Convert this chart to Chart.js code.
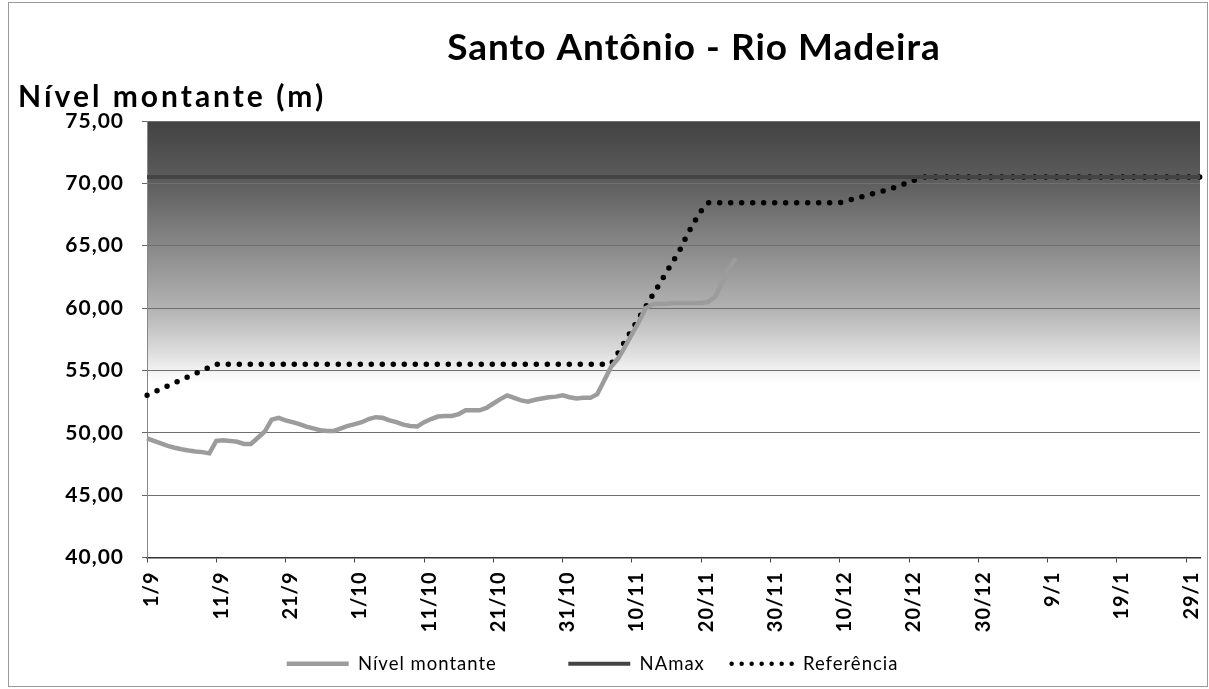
<!DOCTYPE html>
<html>
<head>
<meta charset="utf-8">
<script src="https://cdn.jsdelivr.net/npm/chart.js@4"></script>
<style>
  html, body { margin: 0; padding: 0; background: #fff; }
  canvas { display: block; }
</style>
</head>
<body>
<canvas id="chart" width="1209" height="689"></canvas>
<script>
// daily categories, 1/9 .. 31/1
const days = [];
for (let d = new Date(2011, 8, 1); d <= new Date(2012, 0, 31); d.setDate(d.getDate() + 1)) {
  days.push(d.getDate() + "/" + (d.getMonth() + 1));
}

const yTicks = [40, 45, 50, 55, 60, 65, 70, 75];

const nivelMontante = [
  49.55, 49.35, 49.15, 48.95, 48.8, 48.68, 48.58, 48.5, 48.45, 48.35,
  49.35, 49.4, 49.35, 49.28, 49.1, 49.1, 49.6, 50.1, 51.05, 51.2,
  51.0, 50.85, 50.7, 50.5, 50.35, 50.2, 50.15, 50.15, 50.35, 50.55,
  50.7, 50.85, 51.1, 51.25, 51.2, 51.0, 50.85, 50.65, 50.55, 50.5,
  50.85, 51.1, 51.3, 51.35, 51.35, 51.5, 51.8, 51.8, 51.8, 52.0,
  52.35, 52.7, 53.0, 52.8, 52.6, 52.5, 52.65, 52.75, 52.85, 52.9,
  53.0, 52.85, 52.75, 52.8, 52.8, 53.1, 54.2, 55.3, 55.95, 56.9,
  57.9, 58.9, 60.0, 60.3, 60.35, 60.35, 60.4, 60.4, 60.4, 60.4,
  60.4, 60.5, 60.9, 62.0, 63.2, 64.0
];

const naMax = [
  70.5, 70.5, 70.5, 70.5, 70.5, 70.5, 70.5, 70.5, 70.5, 70.5, 70.5, 70.5, 70.5, 70.5, 70.5, 70.5, 70.5,
  70.5, 70.5, 70.5, 70.5, 70.5, 70.5, 70.5, 70.5, 70.5, 70.5, 70.5, 70.5, 70.5, 70.5, 70.5, 70.5, 70.5,
  70.5, 70.5, 70.5, 70.5, 70.5, 70.5, 70.5, 70.5, 70.5, 70.5, 70.5, 70.5, 70.5, 70.5, 70.5, 70.5, 70.5,
  70.5, 70.5, 70.5, 70.5, 70.5, 70.5, 70.5, 70.5, 70.5, 70.5, 70.5, 70.5, 70.5, 70.5, 70.5, 70.5, 70.5,
  70.5, 70.5, 70.5, 70.5, 70.5, 70.5, 70.5, 70.5, 70.5, 70.5, 70.5, 70.5, 70.5, 70.5, 70.5, 70.5, 70.5,
  70.5, 70.5, 70.5, 70.5, 70.5, 70.5, 70.5, 70.5, 70.5, 70.5, 70.5, 70.5, 70.5, 70.5, 70.5, 70.5, 70.5,
  70.5, 70.5, 70.5, 70.5, 70.5, 70.5, 70.5, 70.5, 70.5, 70.5, 70.5, 70.5, 70.5, 70.5, 70.5, 70.5, 70.5,
  70.5, 70.5, 70.5, 70.5, 70.5, 70.5, 70.5, 70.5, 70.5, 70.5, 70.5, 70.5, 70.5, 70.5, 70.5, 70.5, 70.5,
  70.5, 70.5, 70.5, 70.5, 70.5, 70.5, 70.5, 70.5, 70.5, 70.5, 70.5, 70.5, 70.5, 70.5, 70.5, 70.5, 70.5
];

const referencia = [
  53.0, 53.25, 53.5, 53.75, 54.0, 54.25, 54.5, 54.75, 55.0, 55.25, 55.5,
  55.5, 55.5, 55.5, 55.5, 55.5, 55.5, 55.5, 55.5, 55.5, 55.5,
  55.5, 55.5, 55.5, 55.5, 55.5, 55.5, 55.5, 55.5, 55.5, 55.5,
  55.5, 55.5, 55.5, 55.5, 55.5, 55.5, 55.5, 55.5, 55.5, 55.5,
  55.5, 55.5, 55.5, 55.5, 55.5, 55.5, 55.5, 55.5, 55.5, 55.5,
  55.5, 55.5, 55.5, 55.5, 55.5, 55.5, 55.5, 55.5, 55.5, 55.5,
  55.5, 55.5, 55.5, 55.5, 55.5, 55.5, 55.5,
  56.4, 57.35, 58.25, 59.2, 60.1, 61.05, 61.95, 62.9, 63.8, 64.75, 65.9, 66.9, 67.8, 68.45,
  68.45, 68.45, 68.45, 68.45, 68.45, 68.45, 68.45, 68.45, 68.45, 68.45,
  68.45, 68.45, 68.45, 68.45, 68.45, 68.45, 68.45, 68.45, 68.45,
  68.6, 68.75, 68.9, 69.05, 69.2, 69.35, 69.5, 69.7, 69.9, 70.1, 70.3, 70.5,
  70.5, 70.5, 70.5, 70.5, 70.5, 70.5, 70.5, 70.5, 70.5, 70.5,
  70.5, 70.5, 70.5, 70.5, 70.5, 70.5, 70.5, 70.5, 70.5, 70.5,
  70.5, 70.5, 70.5, 70.5, 70.5, 70.5, 70.5, 70.5, 70.5, 70.5,
  70.5, 70.5, 70.5, 70.5, 70.5, 70.5, 70.5, 70.5, 70.5, 70.5
];

const FONT = "Lato, 'Open Sans', sans-serif";

// grey gradient behind the plot, titles and outer frame
const decor = {
  id: "decor",
  beforeUpdate(chart) {
    chart.ctx.letterSpacing = "1px";
  },
  beforeDraw(chart) {
    const { ctx, chartArea: a, scales: { y } } = chart;
    ctx.letterSpacing = "1px";
    const g = ctx.createLinearGradient(0, a.top, 0, a.bottom);
    const stop = (v, c) => g.addColorStop((y.getPixelForValue(v) - a.top) / (a.bottom - a.top), c);
    stop(75, "#424242");
    stop(70, "#5e5e5e");
    stop(65, "#888888");
    stop(60, "#b2b2b2");
    stop(57, "#d6d6d6");
    stop(55, "#f2f2f2");
    stop(54, "#ffffff");
    stop(40, "#ffffff");
    ctx.save();
    ctx.fillStyle = g;
    ctx.fillRect(a.left, a.top, a.right - a.left, a.bottom - a.top);
    ctx.restore();
  },
  afterDraw(chart) {
    const { ctx } = chart;
    ctx.save();
    ctx.strokeStyle = "#9a9a9a";
    ctx.lineWidth = 1;
    ctx.strokeRect(8.5, 2.5, 1199, 684);
    ctx.fillStyle = "#000";
    ctx.textBaseline = "alphabetic";
    ctx.textAlign = "center";
    ctx.letterSpacing = "1px";
    ctx.font = "bold 37px " + FONT;
    ctx.fillText("Santo Antônio - Rio Madeira", 694, 60);
    ctx.textAlign = "left";
    ctx.letterSpacing = "3px";
    ctx.font = "bold 30px " + FONT;
    ctx.fillText("Nível montante (m)", 18, 107);
    ctx.restore();
  }
};

// extra room after each legend entry, as in the original
const legendGap = ["\u2003\u2003\u2003\u2003", "\u2003", "\u2003"];

new Chart(document.getElementById("chart"), {
  type: "line",
  data: {
    labels: days,
    datasets: [
      {
        label: "Nível montante",
        data: nivelMontante,
        borderColor: "#9c9c9c",
        backgroundColor: "#9c9c9c",
        borderWidth: 4.5,
        pointRadius: 0,
        tension: 0
      },
      {
        label: "NAmax",
        data: naMax,
        borderColor: "#444444",
        backgroundColor: "#444444",
        borderWidth: 4,
        pointRadius: 0
      },
      {
        label: "Referência",
        data: referencia,
        borderColor: "#000000",
        backgroundColor: "#000000",
        borderWidth: 5.5,
        borderDash: [0, 11],
        borderCapStyle: "round",
        pointRadius: 0,
        tension: 0
      }
    ]
  },
  options: {
    responsive: false,
    animation: false,
    layout: { padding: { top: 121, right: 9, bottom: 6, left: 0 } },
    plugins: {
      title: { display: false },
      tooltip: { enabled: false },
      legend: {
        position: "bottom",
        labels: {
          usePointStyle: true,
          pointStyle: "line",
          pointStyleWidth: 62,
          padding: 12,
          color: "#000",
          font: { family: FONT, size: 18.5 },
          generateLabels(chart) {
            const items = Chart.defaults.plugins.legend.labels.generateLabels(chart);
            items.forEach(it => {
              const ds = chart.data.datasets[it.datasetIndex];
              it.text = it.text + legendGap[it.datasetIndex];
              if (ds.borderDash) {
                it.lineDash = [0, 10];
                it.lineCap = "round";
                it.lineWidth = 4.5;
              }
            });
            return items;
          }
        }
      }
    },
    scales: {
      x: {
        offset: false,
        afterFit(s) { s.height = 85; s.paddingLeft = 0; s.paddingRight = 0; },
        grid: {
          drawOnChartArea: false,
          tickLength: 5,
          tickColor: c => (c.index % 10 === 0 ? "#444" : "rgba(0,0,0,0)")
        },
        border: { color: "#333", width: 1.5 },
        ticks: {
          autoSkip: false,
          minRotation: 90,
          maxRotation: 90,
          padding: 9,
          labelOffset: 5,
          color: "#000",
          font: { family: FONT, size: 20, weight: "bold" },
          callback: (v, i) => (i % 10 === 0 ? days[i] : "")
        }
      },
      y: {
        min: yTicks[0],
        max: yTicks[yTicks.length - 1],
        afterFit(s) { s.width = 147; },
        afterBuildTicks(s) { s.ticks = yTicks.map(v => ({ value: v })); },
        grid: { color: "#6f6f6f", lineWidth: 1, tickLength: 5, tickColor: "#666" },
        border: { color: "#888", width: 1 },
        ticks: {
          padding: 18,
          color: "#000",
          font: { family: FONT, size: 21, weight: "bold" },
          callback: v => v.toFixed(2).replace(".", ",")
        }
      }
    }
  },
  plugins: [decor]
});
</script>
</body>
</html>
